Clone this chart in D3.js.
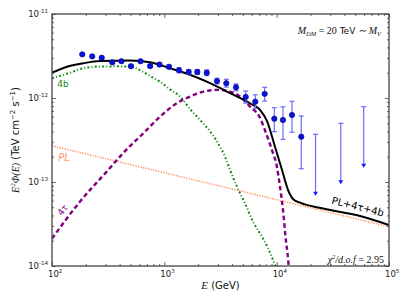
<!DOCTYPE html>
<html>
<head>
<meta charset="utf-8">
<script src="https://cdn.jsdelivr.net/npm/d3@7"></script>
<style>
  body { margin: 0; background: #fff; }
  text { font-family: "DejaVu Sans", sans-serif; }
  .math { font-family: "Liberation Serif", serif; font-style: italic; }
</style>
</head>
<body>
<svg id="chart" width="407" height="305"></svg>
<script>
// measured points (GeV, TeV cm^-2 s^-1)
var dataE  = [186, 228, 277, 344, 415, 505, 614, 748, 906, 1101, 1351, 1648,
              1966, 2384, 2943, 3562, 4345, 5300, 6455, 7820, 9530, 11380, 13700, 16560];
var dataF  = [3.31e-12, 3.13e-12, 3.01e-12, 2.66e-12, 2.74e-12, 2.39e-12, 2.74e-12, 2.40e-12,
              2.50e-12, 2.35e-12, 2.14e-12, 2.04e-12, 2.04e-12, 2.00e-12, 1.59e-12, 1.50e-12,
              1.34e-12, 1.03e-12, 9.04e-13, 1.12e-12, 5.67e-13, 5.47e-13, 6.28e-13, 3.46e-13];
var dataLo = [3.20e-12, 3.02e-12, 2.91e-12, 2.57e-12, 2.64e-12, 2.30e-12, 2.63e-12, 2.29e-12,
              2.39e-12, 2.23e-12, 2.00e-12, 1.91e-12, 1.91e-12, 1.85e-12, 1.47e-12, 1.35e-12,
              1.22e-12, 0.87e-12, 7.5e-13, 9.2e-13, 3.97e-13, 3.22e-13, 3.91e-13, 1.44e-13];
var dataHi = [3.42e-12, 3.24e-12, 3.12e-12, 2.76e-12, 2.84e-12, 2.48e-12, 2.85e-12, 2.51e-12,
              2.61e-12, 2.48e-12, 2.29e-12, 2.18e-12, 2.18e-12, 2.16e-12, 1.72e-12, 1.67e-12,
              1.47e-12, 1.21e-12, 1.09e-12, 1.34e-12, 7.67e-13, 7.87e-13, 9.14e-13, 6.10e-13];

// upper limits
var ulE   = [22180, 37240, 59560];
var ulTop = [3.70e-13, 5.00e-13, 7.88e-13];
var ulBot = [6.87e-14, 9.39e-14, 1.48e-13];

// model curves
var totalE = [100, 136, 189, 267, 494, 745, 1122, 1693, 2553, 3846, 5796, 7117, 8209,
              9660, 11160, 12630, 14130, 16140, 25330, 55230, 100000];
var totalF = [2.00e-12, 2.36e-12, 2.59e-12, 2.76e-12, 2.80e-12, 2.66e-12, 2.26e-12, 1.89e-12,
              1.50e-12, 1.14e-12, 8.65e-13, 7.20e-13, 5.32e-13, 2.63e-13, 1.39e-13, 8.03e-14,
              6.19e-14, 5.67e-14, 4.86e-14, 3.94e-14, 3.08e-14];

var bE = [100, 145, 189, 267, 379, 505, 607, 745, 915, 1122, 1380, 1693, 2080, 2553, 3006,
          3467, 3846, 4437, 5227, 6153, 7396, 8372, 9660, 10060];
var bF = [1.72e-12, 2.00e-12, 2.26e-12, 2.37e-12, 2.38e-12, 2.37e-12, 2.15e-12, 1.83e-12,
          1.56e-12, 1.27e-12, 1.04e-12, 7.40e-13, 5.47e-13, 4.00e-13, 2.89e-13, 2.00e-13,
          1.39e-13, 8.79e-14, 5.57e-14, 3.37e-14, 2.23e-14, 1.63e-14, 1.03e-14, 9.0e-15];

var tauE = [100, 177, 307, 456, 650, 915, 1288, 1693, 2225, 3020, 3846, 4721, 5796, 6966,
            8035, 9085, 10060, 10710, 11390, 11990, 12700, 12890];
var tauF = [2.12e-14, 5.82e-14, 1.33e-13, 2.40e-13, 3.80e-13, 5.99e-13, 8.65e-13, 1.04e-12,
            1.19e-12, 1.25e-12, 1.19e-12, 1.04e-12, 7.88e-13, 6.10e-13, 3.83e-13, 2.40e-13,
            1.51e-13, 8.72e-14, 4.64e-14, 2.21e-14, 1.12e-14, 8.5e-15];

var plE = [100, 100000];
var plF = [2.70e-13, 2.94e-14];

var xMajor = [1e2, 1e3, 1e4, 1e5];
var xExp = ['2', '3', '4', '5'];
var yMajor = [1e-14, 1e-13, 1e-12, 1e-11];
var yExp = ['-14', '-13', '-12', '-11'];

var svg = d3.select('#chart');
var margin = {left: 52, right: 18, top: 14, bottom: 39};
var width = 407, height = 305;

var x = d3.scaleLog().domain([1e2, 1e5]).range([margin.left, width - margin.right]);
var y = d3.scaleLog().domain([1e-14, 1e-11]).range([height - margin.bottom, margin.top]);

svg.append('clipPath').attr('id', 'plot')
    .append('rect')
    .attr('x', x.range()[0]).attr('y', y.range()[1])
    .attr('width', x.range()[1] - x.range()[0])
    .attr('height', y.range()[0] - y.range()[1]);

var plot = svg.append('g').attr('clip-path', 'url(#plot)');

var line = d3.line()
    .x(d => x(d[0]))
    .y(d => y(d[1]));

function pairs(a, b) {
    return a.map((v, i) => [v, b[i]]);
}

plot.append('path')
    .attr('d', line(pairs(plE, plF)))
    .attr('fill', 'none')
    .attr('stroke', '#ff9a6a')
    .attr('stroke-width', 1.6)
    .attr('stroke-dasharray', '1.3,1.3');

plot.append('path')
    .attr('d', line.curve(d3.curveMonotoneX)(pairs(bE, bF)))
    .attr('fill', 'none')
    .attr('stroke', '#118811')
    .attr('stroke-width', 2)
    .attr('stroke-dasharray', '2,2.2,1,2.2');

plot.append('path')
    .attr('d', line.curve(d3.curveMonotoneX)(pairs(tauE, tauF)))
    .attr('fill', 'none')
    .attr('stroke', '#800080')
    .attr('stroke-width', 2.4)
    .attr('stroke-dasharray', '4.5,3');

plot.append('path')
    .attr('d', line.curve(d3.curveMonotoneX)(pairs(totalE, totalF)))
    .attr('fill', 'none')
    .attr('stroke', '#000')
    .attr('stroke-width', 2);

// error bars
var errColor = '#6b6bff';
var err = plot.append('g')
    .attr('stroke', errColor)
    .attr('stroke-width', 1.2);

dataE.forEach((e, i) => {
    var cx = x(e);
    err.append('line')
        .attr('x1', cx).attr('x2', cx)
        .attr('y1', y(dataLo[i])).attr('y2', y(dataHi[i]));
    [dataLo[i], dataHi[i]].forEach(v => {
        err.append('line')
            .attr('x1', cx - 2.5).attr('x2', cx + 2.5)
            .attr('y1', y(v)).attr('y2', y(v));
    });
});

// upper limits
ulE.forEach((e, i) => {
    var cx = x(e);
    err.append('line')
        .attr('x1', cx).attr('x2', cx)
        .attr('y1', y(ulTop[i])).attr('y2', y(ulBot[i]) - 3);
    err.append('line')
        .attr('x1', cx - 2.5).attr('x2', cx + 2.5)
        .attr('y1', y(ulTop[i])).attr('y2', y(ulTop[i]));
    var yb = y(ulBot[i]);
    plot.append('path')
        .attr('d', `M${cx - 2.5},${yb - 4}L${cx + 2.5},${yb - 4}L${cx},${yb}Z`)
        .attr('fill', '#1a1aff');
});

plot.selectAll('circle')
    .data(pairs(dataE, dataF))
    .enter()
    .append('circle')
    .attr('cx', d => x(d[0]))
    .attr('cy', d => y(d[1]))
    .attr('r', 2.7)
    .attr('fill', '#0a14d8')
    .attr('stroke', '#00008b')
    .attr('stroke-width', 0.6);

// axes, ticks inside on all four sides
var frameColor = '#444';
var x0 = x.range()[0], x1 = x.range()[1];
var y0 = y.range()[0], y1 = y.range()[1];

var xMinor = x.ticks().filter(t => xMajor.indexOf(t) < 0);
var yMinor = y.ticks().filter(t => yMajor.every(m => Math.abs(m - t) / m > 1e-6));

function addAxis(axis, tx, ty) {
    var g = svg.append('g')
        .attr('transform', `translate(${tx},${ty})`)
        .call(axis);
    g.select('.domain').remove();
    g.selectAll('line').attr('stroke', frameColor).attr('stroke-width', 0.8);
    g.selectAll('text').remove();
    return g;
}

addAxis(d3.axisBottom(x).tickValues(xMajor).tickSize(-4), 0, y0);
addAxis(d3.axisBottom(x).tickValues(xMinor).tickSize(-2), 0, y0);
addAxis(d3.axisTop(x).tickValues(xMajor).tickSize(-4), 0, y1);
addAxis(d3.axisTop(x).tickValues(xMinor).tickSize(-2), 0, y1);
addAxis(d3.axisLeft(y).tickValues(yMajor).tickSize(-4), x0, 0);
addAxis(d3.axisLeft(y).tickValues(yMinor).tickSize(-2), x0, 0);
addAxis(d3.axisRight(y).tickValues(yMajor).tickSize(-4), x1, 0);
addAxis(d3.axisRight(y).tickValues(yMinor).tickSize(-2), x1, 0);

svg.append('rect')
    .attr('x', x0).attr('y', y1)
    .attr('width', x1 - x0).attr('height', y0 - y1)
    .attr('fill', 'none')
    .attr('stroke', frameColor)
    .attr('stroke-width', 1.3);

function powerLabel(px, py, exp, anchor) {
    var t = svg.append('text')
        .attr('x', px).attr('y', py)
        .attr('text-anchor', anchor)
        .attr('font-size', 8.5)
        .attr('fill', '#222');
    t.append('tspan').text('10');
    t.append('tspan').attr('dy', -4).attr('font-size', 5.5).text(exp);
}

xMajor.forEach((v, i) => powerLabel(x(v) - 4, y0 + 11, xExp[i], 'start'));
yMajor.forEach((v, i) => powerLabel(x0 - 4, y(v) + 3, yExp[i], 'end'));

// axis titles
var yl = svg.append('text')
    .attr('transform', `translate(19,${(y0 + y1) / 2}) rotate(-90)`)
    .attr('text-anchor', 'middle')
    .attr('font-size', 10)
    .attr('fill', '#111');
yl.append('tspan').attr('class', 'math').text('E');
yl.append('tspan').attr('class', 'math').attr('dy', -4).attr('font-size', 7).text('2');
yl.append('tspan').attr('class', 'math').attr('dy', 4).text('Φ(E)');
yl.append('tspan').text(' (TeV cm');
yl.append('tspan').attr('dy', -4).attr('font-size', 7).text('−2');
yl.append('tspan').attr('dy', 4).text(' s');
yl.append('tspan').attr('dy', -4).attr('font-size', 7).text('−1');
yl.append('tspan').attr('dy', 4).text(')');

var xl = svg.append('text')
    .attr('x', (x0 + x1) / 2 + 0)
    .attr('y', 289)
    .attr('text-anchor', 'middle')
    .attr('font-size', 10)
    .attr('fill', '#111');
xl.append('tspan').attr('class', 'math').attr('font-size', 11).text('E');
xl.append('tspan').text(' (GeV)');

// annotations
var mdm = svg.append('text')
    .attr('x', 381).attr('y', 34)
    .attr('text-anchor', 'end')
    .attr('font-size', 10)
    .attr('fill', '#111');
mdm.append('tspan').attr('class', 'math').text('M');
mdm.append('tspan').attr('class', 'math').attr('dy', 2).attr('font-size', 6.5).text('DM');
mdm.append('tspan').style('font-family', '"Liberation Serif", serif').attr('dy', -2).text(' = 20');
mdm.append('tspan').attr('font-size', 9).text(' TeV  ');
mdm.append('tspan').attr('class', 'math').text('∼ M');
mdm.append('tspan').attr('class', 'math').attr('dy', 2).attr('font-size', 6.5).text('V');

var chi = svg.append('text')
    .attr('x', 384).attr('y', 263)
    .attr('text-anchor', 'end')
    .attr('font-size', 10)
    .attr('fill', '#111');
chi.append('tspan').attr('class', 'math').text('χ');
chi.append('tspan').attr('class', 'math').attr('dy', -4).attr('font-size', 6.5).text('2');
chi.append('tspan').attr('class', 'math').attr('dy', 4).text('/d.o.f');
chi.append('tspan').style('font-family', '"Liberation Serif", serif').text(' = 2.95');

svg.append('text')
    .attr('transform', `translate(357,210) rotate(14)`)
    .attr('text-anchor', 'middle')
    .attr('font-size', 10)
    .attr('fill', '#000')
    .text('PL+4τ+4b');

svg.append('text')
    .attr('x', 64).attr('y', 161)
    .attr('text-anchor', 'middle')
    .attr('font-size', 10)
    .attr('font-style', 'italic')
    .attr('fill', '#ff9a6a')
    .text('PL');

svg.append('text')
    .attr('x', 63).attr('y', 87)
    .attr('text-anchor', 'middle')
    .attr('font-size', 9)
    .attr('font-family', '"Liberation Serif", serif')
    .attr('fill', '#118811')
    .text('4b');

svg.append('text')
    .attr('transform', `translate(65,212) rotate(-50)`)
    .attr('text-anchor', 'middle')
    .attr('font-size', 9)
    .attr('font-family', '"Liberation Serif", serif')
    .attr('fill', '#800080')
    .text('4τ');
</script>
</body>
</html>
